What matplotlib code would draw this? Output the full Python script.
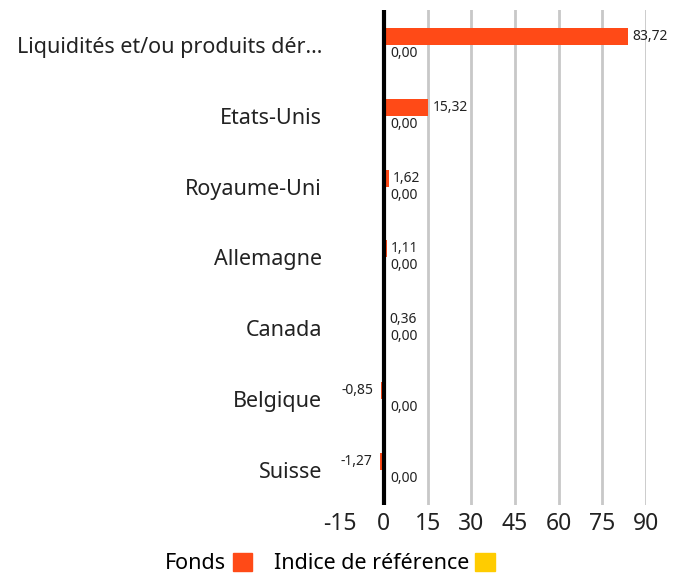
import matplotlib
matplotlib.use("Agg")
import matplotlib.pyplot as plt
from matplotlib.patches import Patch
import numpy as np

categories = ["Liquidités et/ou produits dér...", "Etats-Unis", "Royaume-Uni",
              "Allemagne", "Canada", "Belgique", "Suisse"]
fonds = [83.72, 15.32, 1.62, 1.11, 0.36, -0.85, -1.27]
indice = [0.00, 0.00, 0.00, 0.00, 0.00, 0.00, 0.00]
xticks = [-15, 0, 15, 30, 45, 60, 75, 90]
series_names = ["Fonds", "Indice de référence"]
colors = ["#FF4A17", "#FFCC00"]

plt.rcParams['font.family'] = ['Noto Sans', 'DejaVu Sans']

fig = plt.figure(figsize=(6.83, 5.83), dpi=100)
ax = fig.add_axes([0.498, 0.134, 0.448, 0.849])

y = np.arange(len(categories))
h = 0.24
ax.barh(y - h / 2, fonds, height=h, color=colors[0], zorder=3)
ax.barh(y + h / 2, indice, height=h, color=colors[1], zorder=3)

fmt = lambda v: f"{v:.2f}".replace(".", ",")
for yi, v in zip(y, fonds):
    if v >= 0:
        ax.annotate(fmt(v), (v, yi - h / 2), xytext=(3, 0), textcoords="offset points",
                    va="center", ha="left", fontsize=10, color="#222222")
    else:
        ax.annotate(fmt(v), (v, yi - h / 2), xytext=(-6, 0), textcoords="offset points",
                    va="center", ha="right", fontsize=10, color="#222222")
for yi, v in zip(y, indice):
    ax.annotate(fmt(v), (max(v, 0), yi + h / 2), xytext=(5, 0), textcoords="offset points",
                va="center", ha="left", fontsize=10, color="#222222")

ax.set_xlim(-15, 90)
ax.set_ylim(len(categories) - 0.5, -0.5)
ax.set_xticks(xticks)
ax.set_xticklabels([str(t) for t in xticks], fontsize=16.5, color="#222222")
ax.set_yticks(y)
ax.set_yticklabels(categories, fontsize=15.5, color="#222222")
ax.tick_params(axis="both", length=0, pad=5)
ax.tick_params(axis="y", pad=13)

for t in xticks:
    if t > 0:
        ax.axvline(t, color="#C8C8C8", lw=2, zorder=1)
ax.axvline(0, color="black", lw=3, zorder=4)
for s in ax.spines.values():
    s.set_visible(False)

handles = [Patch(color=colors[0]), Patch(color=colors[1])]
fig.legend(handles, series_names, loc="lower center", bbox_to_anchor=(0.483, -0.018),
           ncol=2, frameon=False, fontsize=15.5, markerfirst=False,
           handlelength=0.9, handleheight=0.9, handletextpad=0.3, columnspacing=1.0)

fig.savefig("out.png", dpi=100)
